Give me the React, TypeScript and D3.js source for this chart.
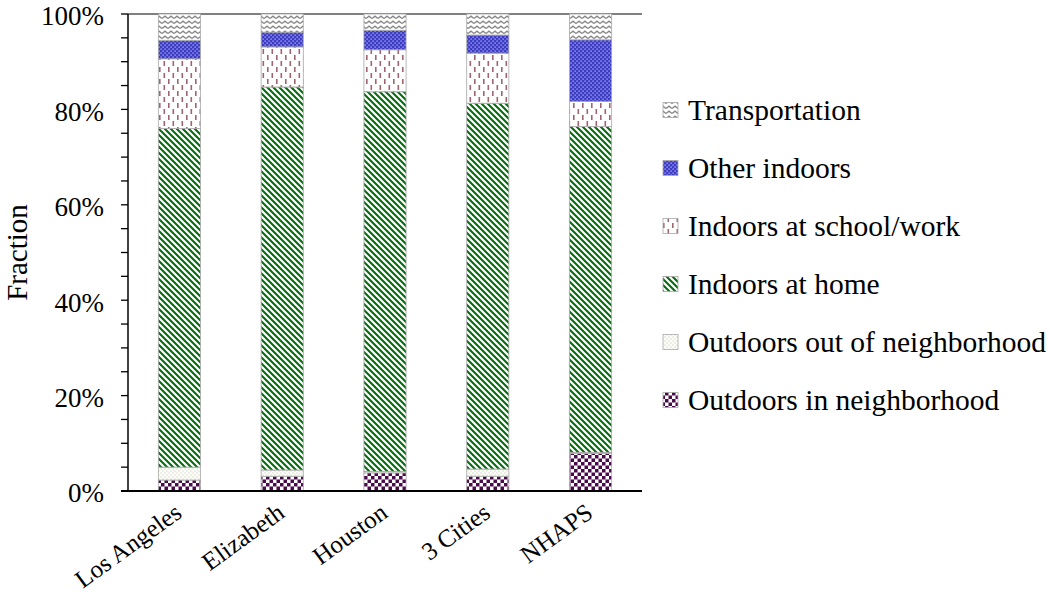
import React from "react";
import * as d3 from "d3";

const categories = ["Los Angeles", "Elizabeth", "Houston", "3 Cities", "NHAPS"];
const outdoorsInNeighborhood = [2.3, 3.1, 3.8, 3.1, 7.9];
const outdoorsOutNeighborhood = [2.7, 1.3, 0.3, 1.5, 0.2];
const indoorsAtHome = [71.0, 80.3, 79.6, 76.7, 68.3];
const indoorsAtSchoolWork = [14.6, 8.4, 8.8, 10.5, 5.3];
const otherIndoors = [3.9, 3.1, 4.1, 3.8, 12.9];
const transportation = [5.5, 3.8, 3.4, 4.4, 5.4];

const seriesNames = [
  "Outdoors in neighborhood",
  "Outdoors out of neighborhood",
  "Indoors at home",
  "Indoors at school/work",
  "Other indoors",
  "Transportation",
];
const seriesValues = [
  outdoorsInNeighborhood,
  outdoorsOutNeighborhood,
  indoorsAtHome,
  indoorsAtSchoolWork,
  otherIndoors,
  transportation,
];
const yTicks = [0, 20, 40, 60, 80, 100];
const yMinorTicks = d3.range(0, 101, 5);
const patternIds = ["pOutIn", "pOutOut", "pHome", "pSchool", "pOther", "pTrans"];

const FONT = '"Liberation Serif", "Times New Roman", Tinos, "DejaVu Serif", serif';

export default function App() {
  const left = 128, right = 642, top = 14, bottom = 491;
  const x = d3.scaleBand<string>().domain(categories).range([left, right]).paddingInner(0.59).paddingOuter(0.295);
  const y = d3.scaleLinear().domain([0, 100]).range([bottom, top]);

  const table = categories.map((c, i) => {
    const row: any = { cat: c };
    seriesNames.forEach((s, j) => (row[s] = seriesValues[j][i]));
    return row;
  });
  const stacked = d3.stack<any>().keys(seriesNames)(table);

  const legendOrder = [...seriesNames].reverse();
  const legendY = d3.scalePoint<string>().domain(legendOrder).range([110, 400]);
  const tStyle = { fontFamily: FONT };

  return (
    <svg width={1050} height={599} style={{ position: "absolute", left: 0, top: 0, background: "#fff" }}>
      <defs>
        <pattern id="pTrans" patternUnits="userSpaceOnUse" width={6} height={5}>
          <rect width={6} height={5} fill="#fff" />
          <path d="M0,3.6 L3,1.2 L6,3.6" fill="none" stroke="#858585" strokeWidth={1.3} />
        </pattern>
        <pattern id="pOther" patternUnits="userSpaceOnUse" width={4} height={4}>
          <rect width={4} height={4} fill="#3c3cc4" />
          <rect x={0.5} y={0.5} width={1.2} height={1.2} fill="#c8c8f0" />
          <rect x={2.5} y={2.5} width={1.2} height={1.2} fill="#c8c8f0" />
        </pattern>
        <pattern id="pSchool" patternUnits="userSpaceOnUse" width={9} height={12}>
          <rect width={9} height={12} fill="#fff" />
          <rect x={1.5} y={1} width={1.6} height={5} fill="#a06470" />
          <rect x={6} y={7} width={1.6} height={5} fill="#a06470" />
        </pattern>
        <pattern id="pHome" patternUnits="userSpaceOnUse" width={6} height={6}>
          <rect width={6} height={6} fill="#fff" />
          <path d="M-1,-1 L7,7 M-1,5 L1,7 M5,-1 L7,1" stroke="#0b6b12" strokeWidth={2.1} />
        </pattern>
        <pattern id="pOutOut" patternUnits="userSpaceOnUse" width={4} height={4}>
          <rect width={4} height={4} fill="#fdfdf8" />
          <rect x={0.5} y={0.5} width={1} height={1} fill="#c4c4bc" />
          <rect x={2.5} y={2.5} width={1} height={1} fill="#c4c4bc" />
        </pattern>
        <pattern id="pOutIn" patternUnits="userSpaceOnUse" width={7} height={7}>
          <rect width={7} height={7} fill="#fff" />
          <rect x={0} y={0} width={3.5} height={3.5} fill="#4a0a4c" />
          <rect x={3.5} y={3.5} width={3.5} height={3.5} fill="#4a0a4c" />
        </pattern>
      </defs>

      {/* top frame line */}
      <line x1={left} x2={right} y1={top} y2={top} stroke="#808080" strokeWidth={2} />

      {/* bars */}
      {stacked.map((layer, j) => (
        <g key={layer.key}>
          {layer.map((d, i) => (
            <rect
              key={i}
              x={x(categories[i])!}
              y={y(d[1])}
              width={x.bandwidth()}
              height={Math.max(0, y(d[0]) - y(d[1]))}
              fill={`url(#${patternIds[j]})`}
              stroke="#a8a8a8"
              strokeWidth={0.8}
            />
          ))}
        </g>
      ))}

      {/* y axis */}
      <line x1={left} x2={left} y1={top} y2={bottom} stroke="#000" strokeWidth={1.5} />
      {yMinorTicks.map((t) => (
        <line key={"m" + t} x1={left - 7} x2={left} y1={y(t)} y2={y(t)} stroke="#000" strokeWidth={1.3} />
      ))}
      {yTicks.map((t) => (
        <text key={t} x={104} y={y(t) + 2} dy="0.35em" textAnchor="end" fontSize={27} fill="#000" style={tStyle}>
          {t}%
        </text>
      ))}
      <text transform={`translate(27,${(top + bottom) / 2}) rotate(-90)`} textAnchor="middle" fontSize={29} fill="#000" style={tStyle}>
        Fraction
      </text>

      {/* x axis */}
      <line x1={left - 7} x2={right} y1={bottom} y2={bottom} stroke="#000" strokeWidth={2} />
      {categories.map((c) => (
        <text
          key={c}
          transform={`translate(${x(c)! + x.bandwidth() / 2 + 4},${bottom + 25}) rotate(-36)`}
          textAnchor="end"
          fontSize={25}
          fill="#000"
          style={tStyle}
        >
          {c}
        </text>
      ))}

      {/* legend */}
      {legendOrder.map((s) => {
        const j = seriesNames.indexOf(s);
        const cy = legendY(s)!;
        return (
          <g key={s}>
            <rect x={663} y={cy - 7.5} width={15} height={15} fill={`url(#${patternIds[j]})`} stroke="#a8a8a8" strokeWidth={0.8} />
            <text x={688} y={cy} dy="0.35em" fontSize={29.5} fill="#000" style={tStyle}>
              {s}
            </text>
          </g>
        );
      })}
    </svg>
  );
}
